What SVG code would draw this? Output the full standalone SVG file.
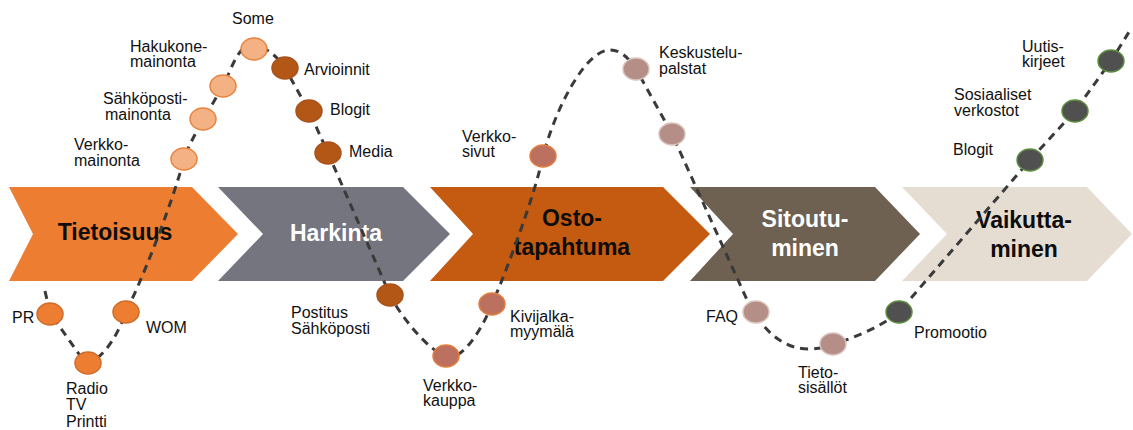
<svg xmlns="http://www.w3.org/2000/svg" width="1133" height="430" viewBox="0 0 1133 430">
<style>
.lbl{font-family:"Liberation Sans",Arial,sans-serif;font-size:16px;fill:#111}
.ch{font-family:"Liberation Sans",Arial,sans-serif;font-size:23px;font-weight:bold;text-anchor:middle}
.dk{fill:#0d0d0d}.wt{fill:#ffffff}
.c1{fill:#F4B183;stroke:#E8833F;stroke-width:1.5}
.c2{fill:#B35717;stroke:#A9521A;stroke-width:1.5}
.c3{fill:#ED7D31;stroke:#D06B28;stroke-width:1.5}
.c4{fill:#BC7060;stroke:#E57E3A;stroke-width:1.5}
.c5{fill:#B48E87;stroke:#D8C4BD;stroke-width:1.5}
.c6{fill:#505050;stroke:#5E8F3E;stroke-width:1.5}
.conn{fill:none;stroke:#3a3a3a;stroke-width:3;stroke-dasharray:8 6}
</style>
<rect width="1133" height="430" fill="#ffffff"/>
<g id="stage-tietoisuus">
<polygon points="9,187 192,187 238,234 192,281 9,281 33,234" fill="#ED7D31"/>
<text class="ch dk" x="115" y="240">Tietoisuus</text>
</g>
<g id="stage-harkinta">
<polygon points="218,187 403,187 450,234 403,281 218,281 263,234" fill="#75757F"/>
<text class="ch wt" x="336" y="241">Harkinta</text>
</g>
<g id="stage-ostotapahtuma">
<polygon points="430,187 663,187 710,234 663,281 430,281 473,234" fill="#C55A11"/>
<text class="ch dk" x="572" y="226">Osto-</text>
<text class="ch dk" x="572" y="255">tapahtuma</text>
</g>
<g id="stage-sitoutuminen">
<polygon points="690,187 875,187 920,234 875,281 690,281 733,234" fill="#6E6151"/>
<text class="ch wt" x="805" y="227">Sitoutu-</text>
<text class="ch wt" x="805" y="256">minen</text>
</g>
<g id="stage-vaikuttaminen">
<polygon points="902,187 1087,187 1132,234 1087,281 902,281 947,234" fill="#E6DDD2"/>
<text class="ch dk" x="1024" y="228">Vaikutta-</text>
<text class="ch dk" x="1024" y="257">minen</text>
</g>
<g id="connectors">
<path class="conn" d="M 45 291 L 50 313 L 86 364 C 98 362, 116 342, 126 311 C 138 290, 172 205, 184 159 C 190 140, 212 105, 223 86 C 232 68, 238 45, 252 45 C 262 45, 276 54, 285 68 L 309 111 L 328 153 L 390 295 C 398 312, 428 352, 448 357 C 462 360, 482 330, 492 304 C 505 275, 535 195, 543 156 C 555 110, 585 50, 610 50 C 622 50, 630 60, 636 69 L 672 134 L 748 302 C 756 318, 776 349, 808 349 C 820 349, 828 347, 833 344 C 855 338, 882 326, 899 312 L 1030 160 L 1075 111 L 1111 61 L 1129 32"/>
</g>
<g id="n-some"><ellipse class="c1" cx="254" cy="49" rx="13" ry="11"/><text class="lbl" x="232" y="24">Some</text></g>
<g id="n-hakukone"><ellipse class="c1" cx="223" cy="86" rx="13" ry="11"/><text class="lbl" x="130" y="52">Hakukone-</text><text class="lbl" x="130" y="67">mainonta</text></g>
<g id="n-sahkopostimainonta"><ellipse class="c1" cx="203" cy="119" rx="13" ry="11"/><text class="lbl" x="103" y="104">Sähköposti-</text><text class="lbl" x="105" y="120">mainonta</text></g>
<g id="n-verkkomainonta"><ellipse class="c1" cx="184" cy="159" rx="13" ry="11"/><text class="lbl" x="74" y="150">Verkko-</text><text class="lbl" x="74" y="166">mainonta</text></g>
<g id="n-arvioinnit"><ellipse class="c2" cx="285" cy="68" rx="13" ry="11"/><text class="lbl" x="304" y="75">Arvioinnit</text></g>
<g id="n-blogit1"><ellipse class="c2" cx="309" cy="111" rx="13" ry="11"/><text class="lbl" x="330" y="115">Blogit</text></g>
<g id="n-media"><ellipse class="c2" cx="328" cy="153" rx="13" ry="11"/><text class="lbl" x="349" y="157">Media</text></g>
<g id="n-pr"><ellipse class="c3" cx="50" cy="314" rx="13" ry="11"/><text class="lbl" x="12" y="323">PR</text></g>
<g id="n-radio"><ellipse class="c3" cx="88" cy="363" rx="13" ry="11"/><text class="lbl" x="66" y="394">Radio</text><text class="lbl" x="66" y="410">TV</text><text class="lbl" x="66" y="427">Printti</text></g>
<g id="n-wom"><ellipse class="c3" cx="126" cy="312" rx="13" ry="11"/><text class="lbl" x="146" y="333">WOM</text></g>
<g id="n-postitus"><ellipse class="c2" cx="390" cy="295" rx="13" ry="11"/><text class="lbl" x="291" y="318">Postitus</text><text class="lbl" x="291" y="334">Sähköposti</text></g>
<g id="n-verkkokauppa"><ellipse class="c4" cx="446" cy="356" rx="13" ry="11"/><text class="lbl" x="423" y="391">Verkko-</text><text class="lbl" x="423" y="406">kauppa</text></g>
<g id="n-kivijalka"><ellipse class="c4" cx="492" cy="304" rx="13" ry="11"/><text class="lbl" x="510" y="322">Kivijalka-</text><text class="lbl" x="510" y="337">myymälä</text></g>
<g id="n-verkkosivut"><ellipse class="c4" cx="543" cy="156" rx="13" ry="11"/><text class="lbl" x="462" y="142">Verkko-</text><text class="lbl" x="462" y="157">sivut</text></g>
<g id="n-keskustelu"><ellipse class="c5" cx="636" cy="69" rx="13" ry="11"/><text class="lbl" x="659" y="58">Keskustelu-</text><text class="lbl" x="659" y="74">palstat</text></g>
<g id="n-unlabeled"><ellipse class="c5" cx="672" cy="134" rx="13" ry="11"/></g>
<g id="n-faq"><ellipse class="c5" cx="756" cy="312" rx="13" ry="11"/><text class="lbl" x="706" y="322">FAQ</text></g>
<g id="n-tieto"><ellipse class="c5" cx="833" cy="344" rx="13" ry="11"/><text class="lbl" x="798" y="378">Tieto-</text><text class="lbl" x="798" y="393">sisällöt</text></g>
<g id="n-promootio"><ellipse class="c6" cx="899" cy="312" rx="13" ry="11"/><text class="lbl" x="914" y="338">Promootio</text></g>
<g id="n-blogit2"><ellipse class="c6" cx="1030" cy="160" rx="13" ry="11"/><text class="lbl" x="953" y="155">Blogit</text></g>
<g id="n-sosiaaliset"><ellipse class="c6" cx="1075" cy="111" rx="13" ry="11"/><text class="lbl" x="954" y="100">Sosiaaliset</text><text class="lbl" x="954" y="116">verkostot</text></g>
<g id="n-uutiskirjeet"><ellipse class="c6" cx="1111" cy="61" rx="13" ry="11"/><text class="lbl" x="1022" y="52">Uutis-</text><text class="lbl" x="1022" y="67">kirjeet</text></g>
</svg>
